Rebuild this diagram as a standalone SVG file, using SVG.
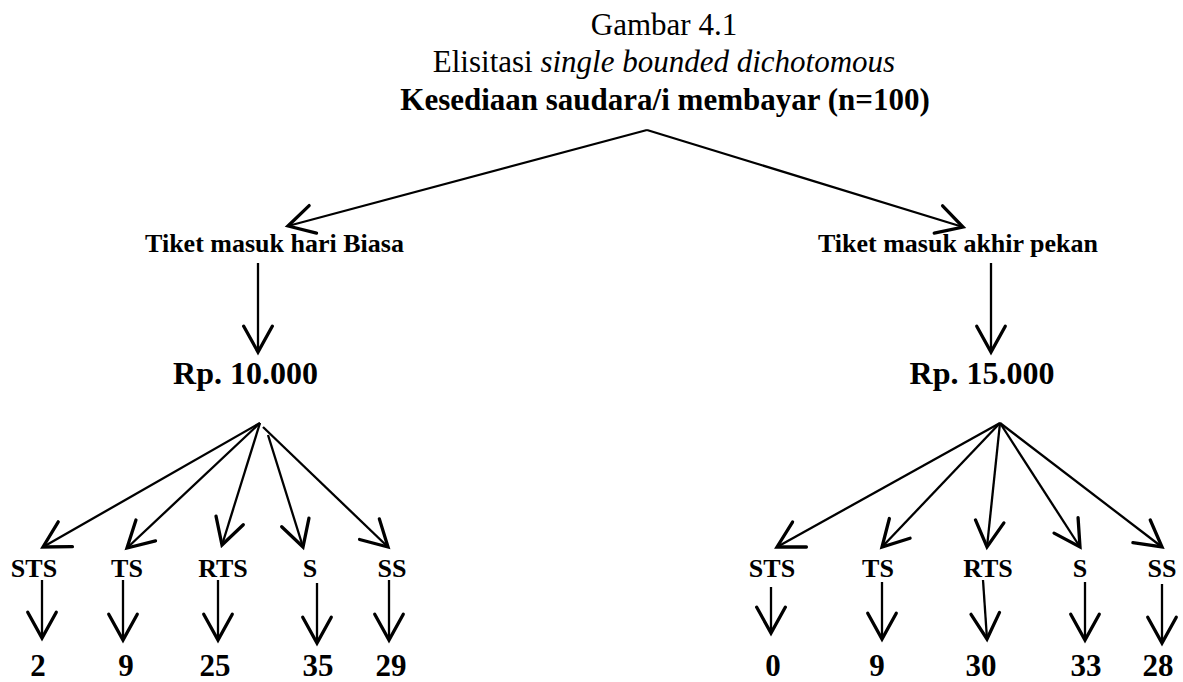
<svg xmlns="http://www.w3.org/2000/svg" width="1183" height="682" viewBox="0 0 1183 682">
<style>
text{font-family:"Liberation Serif","Times New Roman",serif;fill:#000;text-anchor:middle}
.t{font-size:31px}
.b{font-weight:bold}
.lab{font-size:26px;font-weight:bold}
.price{font-size:32px;font-weight:bold}
.num{font-size:31px;font-weight:bold}
.c path{fill:none;stroke:#000;stroke-width:2.3;marker-end:url(#ah)}
</style>
<defs>
<marker id="ah" markerUnits="userSpaceOnUse" markerWidth="40" markerHeight="40" viewBox="-22 -14 26 28" refX="0" refY="0" orient="auto">
<path d="M-18,-10 L0,0 L-18,10" fill="none" stroke="#000" stroke-width="2.3" stroke-linecap="round" stroke-linejoin="miter"/>
</marker>
</defs>
<rect width="1183" height="682" fill="#fff"/>
<g id="title">
<text class="t" x="664" y="35">Gambar 4.1</text>
<text class="t" x="664" y="72">Elisitasi <tspan font-style="italic">single bounded dichotomous</tspan></text>
<text class="t b" x="665" y="110">Kesediaan saudara/i membayar (n=100)</text>
</g>
<g id="n_weekday"><text class="lab" x="274.5" y="252">Tiket masuk hari Biasa</text></g>
<g id="n_weekend"><text class="lab" x="958" y="252">Tiket masuk akhir pekan</text></g>
<g id="p_10000"><text class="price" x="245.5" y="384">Rp. 10.000</text></g>
<g id="p_15000"><text class="price" x="982" y="384">Rp. 15.000</text></g>
<g id="l_STS1"><text class="lab" x="34" y="577">STS</text></g>
<g id="l_TS1"><text class="lab" x="127" y="577">TS</text></g>
<g id="l_RTS1"><text class="lab" x="223" y="577">RTS</text></g>
<g id="l_S1"><text class="lab" x="310" y="577">S</text></g>
<g id="l_SS1"><text class="lab" x="392" y="577">SS</text></g>
<g id="l_STS2"><text class="lab" x="772" y="577">STS</text></g>
<g id="l_TS2"><text class="lab" x="878" y="577">TS</text></g>
<g id="l_RTS2"><text class="lab" x="988" y="577">RTS</text></g>
<g id="l_S2"><text class="lab" x="1080" y="577">S</text></g>
<g id="l_SS2"><text class="lab" x="1162" y="577">SS</text></g>
<g id="v_1"><text class="num" x="38" y="676">2</text></g>
<g id="v_2"><text class="num" x="126" y="676">9</text></g>
<g id="v_3"><text class="num" x="215" y="676">25</text></g>
<g id="v_4"><text class="num" x="318" y="676">35</text></g>
<g id="v_5"><text class="num" x="391" y="676">29</text></g>
<g id="v_6"><text class="num" x="773" y="676">0</text></g>
<g id="v_7"><text class="num" x="877" y="676">9</text></g>
<g id="v_8"><text class="num" x="981" y="676">30</text></g>
<g id="v_9"><text class="num" x="1086" y="676">33</text></g>
<g id="v_10"><text class="num" x="1158" y="676">28</text></g>
<g id="connectors" class="c">
<path d="M647,130 L288,226"/>
<path d="M647,130 L963,227"/>
<path d="M258,263 L258,352"/>
<path d="M991,263 L991,352"/>
<path d="M260,423 L43,547"/>
<path d="M260,423 L127,548"/>
<path d="M260,423 L222,545"/>
<path d="M268,435 L303,547"/>
<path d="M263,427 L388,547"/>
<path d="M1000,423 L777,547"/>
<path d="M1000,423 L882,547"/>
<path d="M1000,423 L987,547"/>
<path d="M1000,423 L1080,547"/>
<path d="M1000,423 L1162,547"/>
<path d="M42,580 L42,638"/>
<path d="M123,580 L123,640"/>
<path d="M218,580 L218,640"/>
<path d="M317,583 L317,643"/>
<path d="M389,580 L389,640"/>
<path d="M771,587 L771,633"/>
<path d="M882,582 L882,639"/>
<path d="M983,580 L987,639"/>
<path d="M1085,582 L1085,640"/>
<path d="M1162,584 L1162,643"/>
</g>
</svg>
